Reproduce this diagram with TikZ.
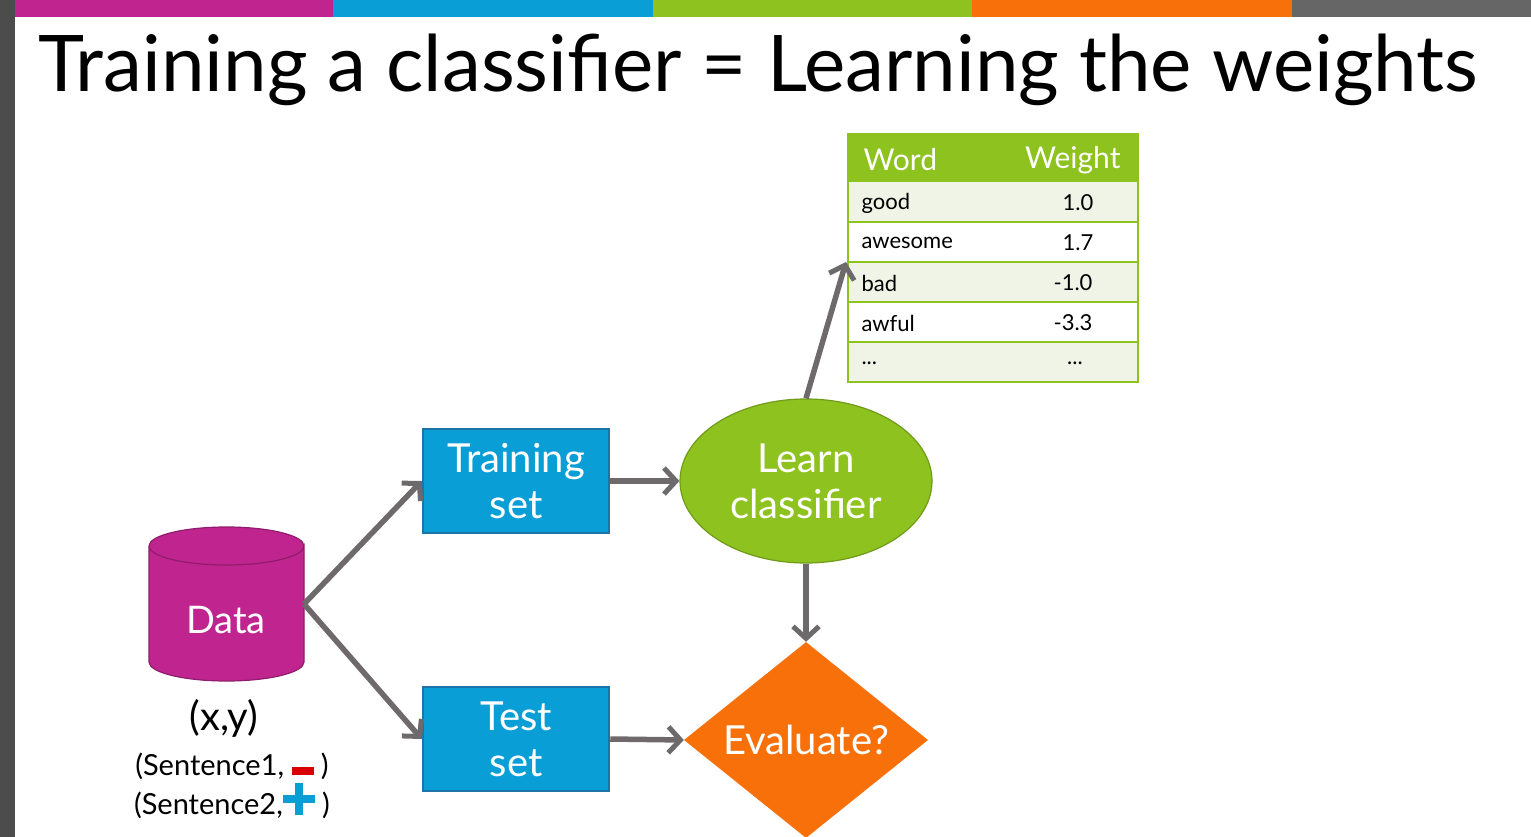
\documentclass[tikz,border=0pt]{standalone}
\usepackage{fontspec}
\setmainfont{Lato}
\usetikzlibrary{shapes.geometric,arrows.meta}
\definecolor{mag}{HTML}{C0258F}
\definecolor{blu}{HTML}{0A9ED6}
\definecolor{blb}{HTML}{1B75A8}
\definecolor{grn}{HTML}{8DC21F}
\definecolor{org}{HTML}{F7700A}
\definecolor{arr}{HTML}{6E6A6B}
\definecolor{lgt}{HTML}{EFF4E6}
\begin{document}
\begin{tikzpicture}[x=1pt,y=-1pt,
  arrow/.style={draw=arr,line width=5.5pt,-{Straight Barb[length=12pt,width=26pt,line width=5pt]}},
  box/.style={draw=blb,line width=2.5pt,fill=blu,minimum width=186pt,minimum height=104pt,text=white,align=center,font=\fontsize{40}{46}\selectfont,inner sep=0pt},
  cell/.style={font=\fontsize{22}{24}\selectfont,anchor=west}]
\useasboundingbox (0,0) rectangle (1531,837);
\fill[white] (0,0) rectangle (1531,837);
\fill[black!70] (0,0) rectangle (15,837);
\fill[mag] (15,0) rectangle (333,17);
\fill[blu] (333,0) rectangle (653,17);
\fill[grn] (653,0) rectangle (972,17);
\fill[org] (972,0) rectangle (1292,17);
\fill[black!60] (1292,0) rectangle (1531,17);
\node[anchor=base west,inner sep=0pt,font=\fontsize{64}{70}\selectfont] (title) at (38,92) {\resizebox{1440pt}{!}{Training a classifier = Learning the weights}};
% table
\fill[grn] (848,134) rectangle (1138,182);
\foreach \y in {182,262,342} \fill[lgt] (848,\y) rectangle (1138,\y+40);
\foreach \y in {222,262,302,342} \draw[grn,line width=1.5pt] (848,\y) -- (1138,\y);
\draw[grn,line width=2pt] (848,134) rectangle (1138,382);
\node[cell,text=white,font=\fontsize{30}{32}\selectfont] (hw) at (860,160) {Word};
\node[anchor=east,text=white,font=\fontsize{30}{32}\selectfont] (hv) at (1124,160) {Weight};
\node[cell] (w1) at (858,203) {good}; \node[font=\fontsize{22}{24}\selectfont] (v1) at (1078,203) {1.0};
\node[cell] (w2) at (858,243) {awesome}; \node[font=\fontsize{22}{24}\selectfont] (v2) at (1078,243) {1.7};
\node[cell] (w3) at (858,283) {bad}; \node[font=\fontsize{22}{24}\selectfont] (v3) at (1073,283) {-1.0};
\node[cell] (w4) at (858,323) {awful}; \node[font=\fontsize{22}{24}\selectfont] (v4) at (1073,323) {-3.3};
\node[cell] (w5) at (858,363) {...}; \node[font=\fontsize{22}{24}\selectfont] (v5) at (1075,363) {...};
\coordinate (tbl) at (846,262);
% cylinder
\fill[mag] (149,546) -- (149,662) arc[start angle=180,end angle=360,x radius=77.5pt,y radius=19pt] -- (304,546) arc[start angle=0,end angle=180,x radius=77.5pt,y radius=19pt];
\draw[mag!75!black,line width=1.2pt] (149,546) -- (149,662) arc[start angle=180,end angle=360,x radius=77.5pt,y radius=19pt] -- (304,546) arc[start angle=0,end angle=-180,x radius=77.5pt,y radius=19pt] arc[start angle=180,end angle=0,x radius=77.5pt,y radius=19pt];
\node[text=white,font=\fontsize{38}{44}\selectfont] (data) at (226,620) {Data};
\coordinate (dout) at (304,604);
\node[box] (train) at (516,481) {Training\\set};
\node[box] (test) at (516,739) {Test\\set};
\node[ellipse,fill=grn,draw=grn!80!black,line width=1.2pt,minimum width=252pt,minimum height=164pt,inner sep=0pt,text=white,align=center,font=\fontsize{40}{46}\selectfont] (learn) at (806,481) {Learn\\classifier};
\node[diamond,fill=org,minimum width=244pt,minimum height=196pt,inner sep=0pt,text=white,font=\fontsize{40}{46}\selectfont] (eval) at (806,740) {Evaluate?};
\node[font=\fontsize{40}{46}\selectfont] (xy) at (224,718) {(x,y)};
\node[font=\fontsize{29}{32}\selectfont] (s1) at (232,766) {(Sentence1, \tikz[x=1pt,y=1pt]\fill[red!85!black] (0,4) rectangle (22,12); )};
\node[font=\fontsize{29}{32}\selectfont] (s2) at (232,801) {(Sentence2,\tikz[x=1pt,y=1pt]{\fill[blu] (-1,8) rectangle (31,16);\fill[blu] (11,-4) rectangle (19,28);} )};
\draw[arrow] (dout) -- (train.west);
\draw[arrow] (dout) -- (test.west);
\draw[arrow] (train.east) -- (learn.west);
\draw[arrow] (test.east) -- (eval.west);
\draw[arrow] (learn.south) -- (eval.north);
\draw[arrow] (learn.north) -- (tbl);
\end{tikzpicture}
\end{document}
